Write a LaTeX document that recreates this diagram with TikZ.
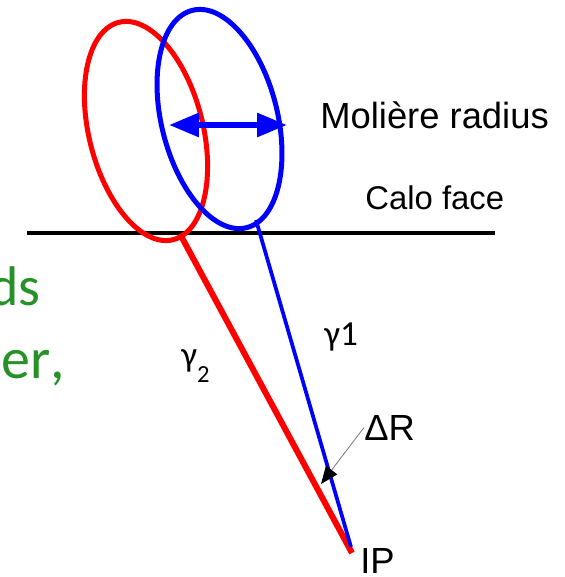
\documentclass[tikz,border=0pt]{standalone}
\usepackage{fontspec}
\setmainfont{Liberation Sans}
\newfontfamily\calfont{Carlito}[Kerning=Off]
\usepackage{tikz}
\usetikzlibrary{arrows.meta,positioning}
\definecolor{slidegreen}{RGB}{38,145,38}

\begin{document}
\begin{tikzpicture}[
        x=0.02cm, y=-0.02cm,
        lbl/.style={inner sep=0pt, font=\fontsize{20.7}{24}\selectfont},
        gam/.style={inner sep=0pt, font=\calfont\fontsize{20}{24}\selectfont},
        cut/.style={inner sep=0pt, text=slidegreen, font=\calfont\fontsize{31.8}{38}\selectfont},
        shower/.style={line width=0.1cm},
        wide/.style={{Triangle[length=0.6cm,width=0.46cm]}-{Triangle[length=0.6cm,width=0.46cm]}, line width=0.12cm},
        pointer/.style={-{Triangle[length=0.35cm,width=0.28cm,black]}, gray, line width=0.5pt}
    ]
        \clip (0,0) rectangle (564,577);
        % slide text running off the left edge
        \node[cut, anchor=base east] (txta) at (41,305) {ds};
        \node[cut, anchor=base west, font=\calfont\fontsize{33}{38}\selectfont] (txtb) at (1,378) {er,};

        % calorimeter face
        \coordinate (faceL) at (27,233);
        \coordinate (faceR) at (495,233);
        \draw[line width=0.075cm] (faceL) -- (faceR);

        % the two showers
        \draw[shower, red, rotate around={14:(146,131)}] (146,131) ellipse [x radius=57, y radius=112];
        \draw[shower, blue, rotate around={14:(219.5,119)}] (219.5,119) ellipse [x radius=58, y radius=112];

        % labels
        \node[lbl, anchor=base west] (moliere) at (320,129) {Molière radius};
        \node[lbl, anchor=base west, font=\fontsize{18.7}{22}\selectfont] (calo) at (365,210) {Calo face};
        \node[gam, anchor=base west] (g1) at (324,345) {γ1};
        \node[gam, anchor=base west] (g2) at (181,366) {γ{\fontsize{14}{14}\selectfont\raisebox{-9.5pt}{2}}};
        \node[lbl, anchor=base west] (dr) at (364,440) {ΔR};
        \node[lbl, anchor=base west] (ip) at (360,573) {IP};

        % photon directions
        \coordinate (redfoot) at (180,234);
        \coordinate (bluefoot) at (256,220);
        \coordinate (redvtx) at (352,553);
        \coordinate (bluevtx) at (351,547);
        \draw[red, line width=0.12cm] (redvtx) -- (redfoot);
        \draw[blue, line width=0.075cm] (bluevtx) -- (bluefoot);

        % Moliere radius arrow
        \coordinate (mrL) at (169,125);
        \coordinate (mrR) at (287,125);
        \draw[wide, blue] (mrL) -- (mrR);

        % Delta R
        \coordinate (drtip) at (321,484);
        \draw[pointer] (dr.west) -- (drtip);
    \end{tikzpicture}
\end{document}
